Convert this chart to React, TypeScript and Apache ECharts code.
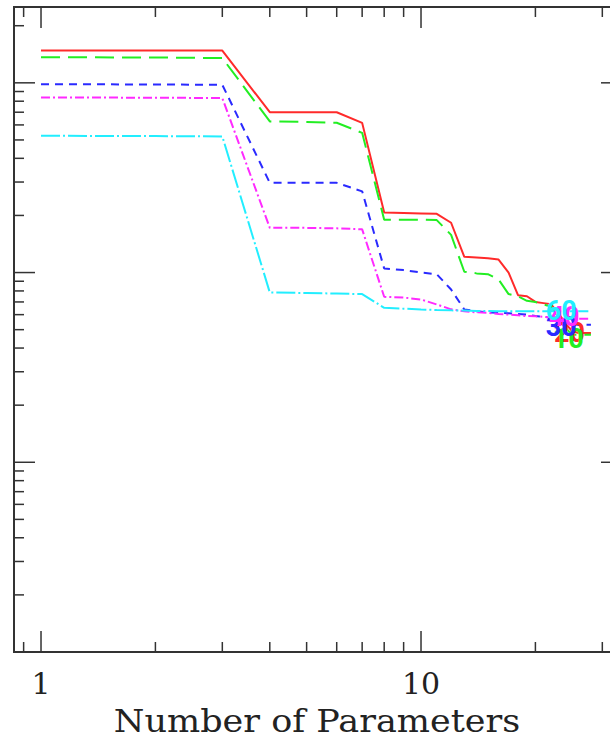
import React, { useEffect, useRef } from "react";
import * as echarts from "echarts";

// Number of free parameters (x) for every curve
const paramCounts = [
  1, 2, 3, 4, 5, 6, 7, 8, 9, 10, 11, 12, 13, 14, 15, 16, 17, 18, 19, 20, 21, 22, 23, 24, 25, 26, 27, 28,
];

const redValues = [
  1.48, 1.48, 1.48, 0.7, 0.7, 0.7, 0.615, 0.207, 0.206, 0.205, 0.204, 0.183, 0.121, 0.12, 0.119, 0.117, 0.1,
  0.076, 0.075, 0.07, 0.069, 0.068, 0.061, 0.054, 0.049, 0.048, 0.048, 0.048,
];
const greenValues = [
  1.365, 1.36, 1.35, 0.626, 0.622, 0.616, 0.545, 0.19, 0.19, 0.19, 0.189, 0.158, 0.101, 0.099, 0.098, 0.092,
  0.077, 0.075, 0.071, 0.07, 0.068, 0.066, 0.058, 0.051, 0.047, 0.047, 0.047, 0.047,
];
const blueValues = [
  0.984, 0.98, 0.976, 0.297, 0.297, 0.297, 0.268, 0.105, 0.103, 0.1, 0.098, 0.0814, 0.0639, 0.0625, 0.0617,
  0.0613, 0.061, 0.0605, 0.06, 0.059, 0.0585, 0.058, 0.056, 0.054, 0.053, 0.053, 0.053, 0.053,
];
const magentaValues = [
  0.837, 0.835, 0.831, 0.172, 0.172, 0.171, 0.169, 0.0745, 0.0738, 0.0721, 0.0679, 0.064, 0.0625, 0.0617,
  0.0614, 0.0605, 0.06, 0.0595, 0.059, 0.0588, 0.0585, 0.058, 0.0575, 0.057, 0.057, 0.057, 0.057, 0.057,
];
const cyanValues = [
  0.526, 0.524, 0.522, 0.0785, 0.078, 0.0775, 0.077, 0.0652, 0.0645, 0.0639, 0.0635, 0.0632, 0.063, 0.0628,
  0.0627, 0.0625, 0.0625, 0.0625, 0.0625, 0.0625, 0.0625, 0.0625, 0.0625, 0.0625, 0.0625, 0.0625, 0.0625,
  0.0625,
];

// Curve tags written near the right-hand ends
const tagTexts = ["20", "10", "30", "40", "60"];
const tagX = [24.6, 24.4, 23.4, 23.8, 23.4];
const tagY = [0.048, 0.0444, 0.0514, 0.058, 0.0625];

const curveColors = ["#ff2a2a", "#22ee22", "#2a2aff", "#ff2aff", "#22eeff"];
const curveDashes: (number[] | null)[] = [null, [19, 8], [8, 6], [9, 3, 2, 3], [19, 3, 2, 3]];
const curveValues = [redValues, greenValues, blueValues, magentaValues, cyanValues];

// Tick positions on the log axes
const tickMantissas = [1, 2, 3, 4, 5, 6, 7, 8, 9];
const xDecades = [0.1, 1, 10];
const yDecades = [0.001, 0.01, 0.1, 1];
const X_MIN = 0.849;
const X_MAX = 33.8;
const Y_MIN = 0.001;
const Y_MAX = 2.51;

const xTicks: number[][] = [];
xDecades.forEach((d) =>
  tickMantissas.forEach((m) => {
    const v = m * d;
    if (v >= X_MIN && v <= X_MAX) xTicks.push([v, 1, m === 1 ? 1 : 0]);
  })
);
const yTicks: number[][] = [];
yDecades.forEach((d) =>
  tickMantissas.forEach((m) => {
    const v = m * d;
    if (v >= Y_MIN && v <= Y_MAX) yTicks.push([1, v, m === 1 ? 1 : 0]);
  })
);

const TICK_COLOR = "#333";
const MAJOR_LEN = 21;
const MINOR_LEN = 10;

function buildOption(): echarts.EChartsCoreOption {
  const lineSeries = curveValues.map((vals, i) => ({
    type: "line",
    data: paramCounts.map((p, j) => [p, vals[j]]),
    showSymbol: false,
    symbol: "none",
    silent: true,
    z: 3 + i,
    lineStyle: {
      color: curveColors[i],
      width: 2,
      type: curveDashes[i] ?? "solid",
    },
  }));

  return {
    animation: false,
    backgroundColor: "#ffffff",
    grid: {
      left: 14,
      top: 7,
      right: 1,
      bottom: 86,
      show: true,
      borderColor: TICK_COLOR,
      borderWidth: 2,
      backgroundColor: "transparent",
    },
    xAxis: {
      type: "log",
      logBase: 10,
      min: X_MIN,
      max: X_MAX,
      axisLine: { show: false },
      axisTick: { show: false },
      splitLine: { show: false },
      axisLabel: {
        show: true,
        margin: 31,
        verticalAlign: "middle",
        fontFamily: "DejaVu Serif",
        fontSize: 30,
        color: "#222",
        showMinLabel: false,
        showMaxLabel: false,
        formatter: (v: number) => {
          const l = Math.log10(v);
          return Math.abs(l - Math.round(l)) < 1e-6 ? String(Math.round(v)) : "";
        },
      },
    },
    yAxis: {
      type: "log",
      logBase: 10,
      min: Y_MIN,
      max: Y_MAX,
      axisLine: { show: false },
      axisTick: { show: false },
      splitLine: { show: false },
      axisLabel: { show: false },
    },
    graphic: [
      {
        type: "text",
        x: 317,
        y: 721.5,
        scaleX: 1.13,
        style: {
          text: "Number of Parameters",
          font: '31px "DejaVu Serif"',
          fill: "#222",
          align: "center",
          verticalAlign: "middle",
        },
      },
    ],
    series: [
      ...lineSeries,
      {
        type: "custom",
        name: "xTicks",
        silent: true,
        z: 10,
        data: xTicks,
        encode: { x: 0, y: 1 },
        renderItem: (params: any, api: any) => {
          const p = api.coord([api.value(0), 1]);
          const cs = params.coordSys;
          const len = api.value(2) === 1 ? MAJOR_LEN : MINOR_LEN;
          const bottom = cs.y + cs.height;
          const style = { stroke: TICK_COLOR, lineWidth: 1.5 };
          return {
            type: "group",
            children: [
              { type: "line", shape: { x1: p[0], y1: bottom, x2: p[0], y2: bottom - len }, style },
              { type: "line", shape: { x1: p[0], y1: cs.y, x2: p[0], y2: cs.y + len }, style },
            ],
          };
        },
      },
      {
        type: "custom",
        name: "yTicks",
        silent: true,
        z: 10,
        data: yTicks,
        encode: { x: 0, y: 1 },
        renderItem: (params: any, api: any) => {
          const p = api.coord([1, api.value(1)]);
          const cs = params.coordSys;
          const len = api.value(2) === 1 ? MAJOR_LEN : MINOR_LEN;
          const right = cs.x + cs.width;
          const style = { stroke: TICK_COLOR, lineWidth: 1.5 };
          return {
            type: "group",
            children: [
              { type: "line", shape: { x1: cs.x, y1: p[1], x2: cs.x + len, y2: p[1] }, style },
              { type: "line", shape: { x1: right, y1: p[1], x2: right - len, y2: p[1] }, style },
            ],
          };
        },
      },
      {
        type: "custom",
        name: "curveTags",
        silent: true,
        z: 20,
        data: tagX.map((x, i) => [x, tagY[i]]),
        encode: { x: 0, y: 1 },
        renderItem: (params: any, api: any) => {
          const i = params.dataIndex;
          const p = api.coord([api.value(0), api.value(1)]);
          return {
            type: "text",
            x: p[0],
            y: p[1],
            style: {
              text: tagTexts[i],
              fill: curveColors[i],
              font: "bold 27px Roboto",
              align: "center",
              verticalAlign: "middle",
            },
          };
        },
      },
    ],
  };
}

export default function App() {
  const ref = useRef<HTMLDivElement>(null);
  useEffect(() => {
    if (!ref.current) return;
    const chart = echarts.init(ref.current, null, { renderer: "svg" });
    chart.setOption(buildOption());
    return () => chart.dispose();
  }, []);
  // The frame's right edge sits just past the visible area, so the inner
  // chart is wider than its clipping box.
  return (
    <div
      style={{
        position: "fixed",
        left: 0,
        top: 0,
        width: 610,
        height: 738,
        overflow: "hidden",
        background: "#fff",
      }}
    >
      <div ref={ref} style={{ width: 623, height: 738 }} />
    </div>
  );
}
